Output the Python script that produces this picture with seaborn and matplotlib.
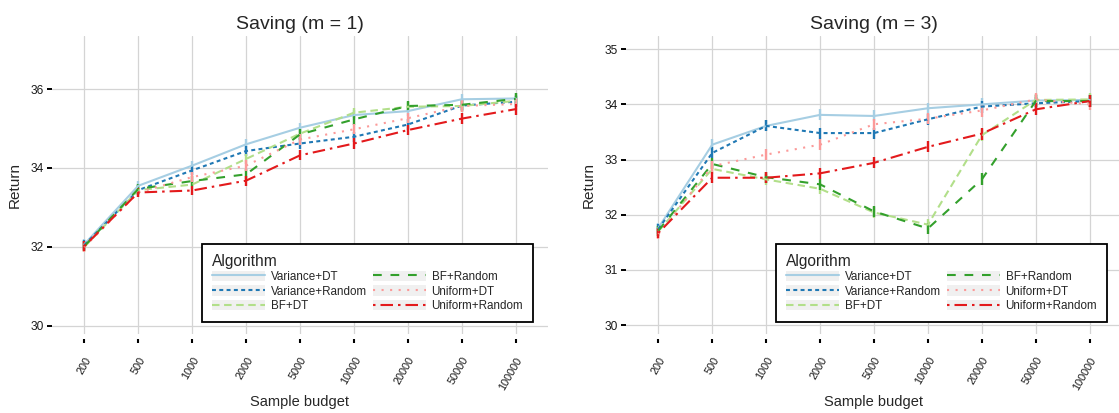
import numpy as np
import pandas as pd
import matplotlib
matplotlib.use("Agg")
import matplotlib.pyplot as plt
import seaborn as sns
from matplotlib.lines import Line2D
from matplotlib.patches import Rectangle
from matplotlib.legend_handler import HandlerLine2D

# ---------------- data ----------------
budgets = ["200", "500", "1000", "2000", "5000", "10000", "20000", "50000", "100000"]
algorithms = ["Variance+DT", "Variance+Random", "BF+DT", "BF+Random", "Uniform+DT", "Uniform+Random"]

# Saving (m = 1)
m1_variance_dt = [32.07, 33.55, 34.06, 34.60, 35.02, 35.34, 35.44, 35.74, 35.76]
m1_variance_random = [32.05, 33.44, 33.94, 34.43, 34.62, 34.79, 35.10, 35.58, 35.68]
m1_bf_dt = [32.00, 33.44, 33.58, 34.23, 34.87, 35.40, 35.55, 35.57, 35.70]
m1_bf_random = [32.02, 33.47, 33.67, 33.84, 34.85, 35.23, 35.57, 35.60, 35.75]
m1_uniform_dt = [32.00, 33.38, 33.77, 34.06, 34.72, 34.98, 35.26, 35.57, 35.62]
m1_uniform_random = [32.02, 33.38, 33.43, 33.68, 34.32, 34.62, 34.96, 35.25, 35.49]
m1_err = [0.12, 0.12, 0.12, 0.13, 0.13, 0.13, 0.13, 0.14, 0.14]

# Saving (m = 3)
m3_variance_dt = [31.76, 33.27, 33.61, 33.81, 33.79, 33.93, 34.00, 34.07, 34.08]
m3_variance_random = [31.74, 33.12, 33.61, 33.48, 33.48, 33.73, 33.96, 34.02, 34.06]
m3_bf_dt = [31.70, 32.83, 32.64, 32.47, 32.04, 31.82, 33.44, 34.08, 34.09]
m3_bf_random = [31.71, 32.92, 32.68, 32.55, 32.06, 31.75, 32.64, 34.06, 34.06]
m3_uniform_dt = [31.65, 32.88, 33.09, 33.27, 33.64, 33.74, 33.89, 34.09, 34.00]
m3_uniform_random = [31.67, 32.67, 32.67, 32.75, 32.94, 33.23, 33.47, 33.91, 34.06]
m3_err = [0.09, 0.10, 0.10, 0.10, 0.10, 0.10, 0.11, 0.11, 0.11]

panels = [
    ("Saving (m = 1)", [m1_variance_dt, m1_variance_random, m1_bf_dt, m1_bf_random, m1_uniform_dt, m1_uniform_random], m1_err,
     (29.797, 37.342), [30, 32, 34, 36]),
    ("Saving (m = 3)", [m3_variance_dt, m3_variance_random, m3_bf_dt, m3_bf_random, m3_uniform_dt, m3_uniform_random], m3_err,
     (29.837, 35.24), [30, 31, 32, 33, 34, 35]),
]

colors = ["#a6cee3", "#1f78b4", "#b2df8a", "#33a02c", "#fb9a99", "#e31a1c"]
dash_styles = ["", (1.9, 1.6), (3.6, 2.2), (4.2, 4.2), (1.0, 3.1), (1.2, 2.4, 6.0, 2.4)]
palette = dict(zip(algorithms, colors))
dashes = dict(zip(algorithms, dash_styles))

# ---------------- style ----------------
sns.set_style("white")
plt.rcParams["font.family"] = ["Liberation Sans", "DejaVu Sans"]

LW = 1.5


class KeyBG(HandlerLine2D):
    def create_artists(self, legend, orig_handle, xdescent, ydescent, width, height, fontsize, trans):
        bg = Rectangle((-xdescent, -ydescent), width, height, facecolor="#f0f0f0",
                       edgecolor="none", transform=trans)
        arts = super().create_artists(legend, orig_handle, xdescent, ydescent, width, height, fontsize, trans)
        return [bg] + list(arts)


fig = plt.figure(figsize=(11.19, 4.13), dpi=100)
W, H = 1119, 413
axes = [fig.add_axes([52 / W, 79 / H, 496 / W, 298 / H]),
        fig.add_axes([626 / W, 79 / H, 496 / W, 298 / H])]

for ax, (title, series, err, ylim, yticks) in zip(axes, panels):
    rows = []
    for alg, vals in zip(algorithms, series):
        for i, (b, v) in enumerate(zip(budgets, vals)):
            rows.append({"pos": i, "budget": b, "Return": v, "Algorithm": alg, "err": err[i]})
    df = pd.DataFrame(rows)

    for alg in algorithms:
        sub = df[df["Algorithm"] == alg]
        ax.errorbar(sub["pos"], sub["Return"], yerr=sub["err"], fmt="none",
                    ecolor=palette[alg], elinewidth=1.7, capsize=0, zorder=2)

    sns.lineplot(data=df, x="pos", y="Return", hue="Algorithm", style="Algorithm",
                 hue_order=algorithms, style_order=algorithms, palette=palette,
                 dashes=dashes, linewidth=LW, errorbar=None, legend=False, ax=ax, zorder=3)

    ax.set_xlim(-0.6, 8.6)
    ax.set_ylim(*ylim)
    ax.set_xticks(range(len(budgets)))
    ax.set_xticklabels(budgets)
    ax.set_yticks(yticks)
    ax.grid(True, color="#d4d4d4", linewidth=0.9)
    ax.set_axisbelow(True)
    for s in ax.spines.values():
        s.set_visible(False)
    ax.spines["bottom"].set_position(("outward", 3.6))
    ax.tick_params(axis="x", which="both", bottom=True, length=3.2, width=1.5, color="black",
                   pad=8.5, labelsize=7.8, labelcolor="#1a1a1a")
    ax.tick_params(axis="y", which="both", left=True, length=3.6, width=1.4, color="black",
                   pad=2.5, labelsize=8.6, labelcolor="#1a1a1a")
    for lab in ax.get_xticklabels():
        lab.set_rotation(60)
        lab.set_ha("right")
        lab.set_va("top")
        lab.set_rotation_mode("anchor")
    ax.set_title(title, fontsize=14, pad=5)
    ax.set_xlabel("Sample budget", fontsize=10.5)
    ax.xaxis.set_label_coords(0.5, -0.205)
    ax.set_ylabel("Return", fontsize=11)
    ax.yaxis.set_label_coords(-0.06, 0.5)

    handles = []
    for alg in algorithms:
        d = dashes[alg]
        if d == "":
            h = Line2D([], [], color=palette[alg], lw=LW, linestyle="-")
        else:
            h = Line2D([], [], color=palette[alg], lw=LW, dashes=d)
        handles.append(h)
    leg = ax.legend(handles, algorithms, title="Algorithm", ncol=2, loc="lower right",
                    bbox_to_anchor=(0.97, 0.04), borderaxespad=0, fontsize=8.4, title_fontsize=11.2,
                    handlelength=4.6, handleheight=1.0, handletextpad=0.45, columnspacing=0.5,
                    labelspacing=0.2, borderpad=0.85, fancybox=False, framealpha=1,
                    alignment="left", handler_map={Line2D: KeyBG()})
    leg.get_frame().set_edgecolor("black")
    leg.get_frame().set_linewidth(1.3)
    leg.set_zorder(10)

fig.savefig("out.png", dpi=100)
